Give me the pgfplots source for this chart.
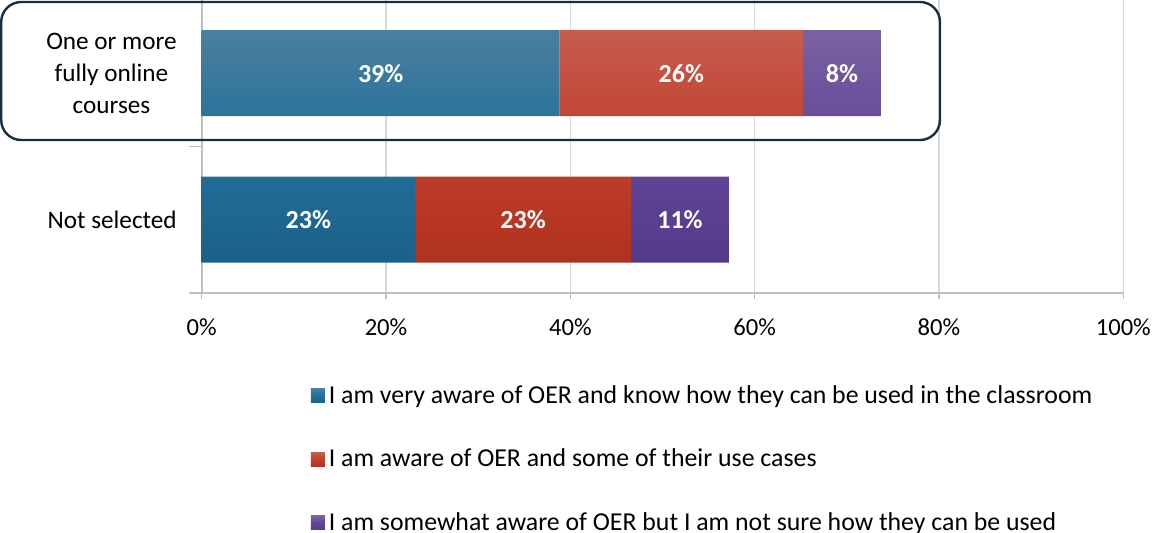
\documentclass[border=0pt]{standalone}
\usepackage{pgfplots}
\pgfplotsset{compat=1.18}
\usepackage{fontspec}
\setmainfont{Carlito}
\definecolor{bluetop}{HTML}{4A7F9E}
\definecolor{bluemid}{HTML}{22709A}
\definecolor{bluebot}{HTML}{1B6189}
\definecolor{redtop}{HTML}{C65C4F}
\definecolor{redmid}{HTML}{C0402A}
\definecolor{redbot}{HTML}{B0311F}
\definecolor{purtop}{HTML}{7A62A2}
\definecolor{purmid}{HTML}{634598}
\definecolor{purbot}{HTML}{553A8B}
\definecolor{gridc}{HTML}{D9D9D9}
\definecolor{axisc}{HTML}{BFBFBF}
\definecolor{boxc}{HTML}{14303F}
\begin{document}
\begin{tikzpicture}
\useasboundingbox (0,0) rectangle (576.5pt,-266.5pt);
\begin{axis}[
  at={(100.85pt,-146.5pt)}, anchor=south west,
  scale only axis, width=460.8pt, height=146.5pt,
  xbar stacked, bar width=43pt,
  xmin=0, xmax=100, ymin=-0.5, ymax=1.5,
  axis x line*=bottom, axis y line*=left,
  axis line style={axisc, line width=0.9pt, -},
  xtick={0,20,40,60,80,100},
  xticklabels={0\%,20\%,40\%,60\%,80\%,100\%},
  xmajorgrids, grid style={gridc, line width=0.6pt},
  major tick length=3pt,
  x tick style={axisc, line width=0.8pt},
  tick align=outside,
  ytick={0,1},
  yticklabels={Not selected,{One or more\\fully online\\courses}},
  y tick style={draw=none},
  yticklabel style={align=center, font=\fontsize{12.6pt}{16pt}\selectfont, xshift=-6pt},
  xticklabel style={font=\fontsize{12.3pt}{14pt}\selectfont, yshift=-6.5pt},
  extra y ticks={-0.5,0.5},
  extra y tick labels={},
  extra y tick style={y tick style={draw=axisc, line width=0.8pt}, major tick length=6.5pt},
  /pgf/number format/assume math mode=true,
  point meta=explicit,
  nodes near coords={\pgfmathprintnumber[fixed,precision=0]{\pgfplotspointmeta}\%},
  every node near coord/.append style={anchor=center, text=white,
     font=\fontsize{13pt}{14pt}\selectfont\bfseries},
  legend style={at={(0.118,-0.300)}, anchor=north west, draw=none,
     font=\fontsize{12.9pt}{14pt}\selectfont, row sep=17.3pt,
     inner sep=0pt, cells={anchor=west}},
  legend cell align=left,
  clip=false,
]
\addplot[draw=none, top color=bluetop, bottom color=bluebot, middle color=bluemid,
  legend image code/.code={\fill[bluemid] (0pt,-3.5pt) rectangle (7pt,3.5pt);}]
  coordinates {(23.15,0) [23] (38.85,1) [39]};
\addlegendentry{I am very aware of OER and know how they can be used in the classroom}
\addplot[draw=none, top color=redtop, bottom color=redbot, middle color=redmid,
  legend image code/.code={\fill[redmid] (0pt,-3.5pt) rectangle (7pt,3.5pt);}]
  coordinates {(23.45,0) [23] (26.4,1) [26]};
\addlegendentry{I am aware of OER and some of their use cases}
\addplot[draw=none, top color=purtop, bottom color=purbot, middle color=purmid,
  legend image code/.code={\fill[purmid] (0pt,-3.5pt) rectangle (7pt,3.5pt);}]
  coordinates {(10.6,0) [11] (8.45,1) [8]};
\addlegendentry{I am somewhat aware of OER but I am not sure how they can be used}
\end{axis}
\draw[boxc, line width=1.2pt, rounded corners=10pt] (0.6pt,-1pt) rectangle (470pt,-70pt);
\end{tikzpicture}
\end{document}
